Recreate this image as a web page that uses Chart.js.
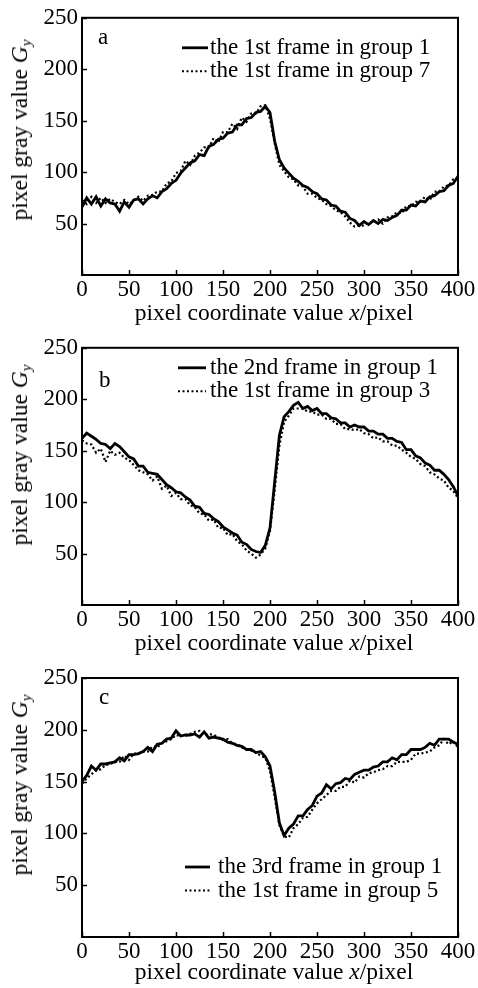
<!DOCTYPE html>
<html>
<head>
<meta charset="utf-8">
<script src="https://cdn.jsdelivr.net/npm/chart.js@4.4.1/dist/chart.umd.min.js"></script>
<style>
  body { margin: 0; background: #fff; }
  .panel { position: relative; width: 478px; }
  canvas { display: block; }
  .ytitle, .xtitle {
    position: absolute;
    font-family: "Liberation Serif", "Times New Roman", serif;
    font-size: 23.5px;
    color: #000;
    white-space: nowrap;
    line-height: 1;
  }
  .ytitle { transform: translate(-50%, -50%) rotate(-90deg); }
  .xtitle { transform: translate(-50%, -50%); }
  sub { font-size: 15px; vertical-align: -4px; }
</style>
</head>
<body>
<div class="panel" style="height:330px">
  <canvas id="chartA" width="478" height="330"></canvas>
  <div class="ytitle" style="left:21px;top:130px">pixel gray value <i>G</i><sub><i>y</i></sub></div>
  <div class="xtitle" style="left:274px;top:313px">pixel coordinate value <i>x</i>/pixel</div>
</div>
<div class="panel" style="height:325px">
  <canvas id="chartB" width="478" height="325"></canvas>
  <div class="ytitle" style="left:21px;top:125px">pixel gray value <i>G</i><sub><i>y</i></sub></div>
  <div class="xtitle" style="left:274px;top:313px">pixel coordinate value <i>x</i>/pixel</div>
</div>
<div class="panel" style="height:333px">
  <canvas id="chartC" width="478" height="333"></canvas>
  <div class="ytitle" style="left:21px;top:130px">pixel gray value <i>G</i><sub><i>y</i></sub></div>
  <div class="xtitle" style="left:274px;top:317px">pixel coordinate value <i>x</i>/pixel</div>
</div>
<script>
// pixel positions along the row (x axis)
const xPos = [0,5,10,15,20,25,30,35,40,45,50,55,60,65,70,75,80,85,90,95,
  100,105,110,115,120,125,130,135,140,145,150,155,160,165,170,175,180,185,190,195,
  200,205,210,215,220,225,230,235,240,245,250,255,260,265,270,275,280,285,290,295,
  300,305,310,315,320,325,330,335,340,345,350,355,360,365,370,375,380,385,390,395,400];

const xTicks = [0, 50, 100, 150, 200, 250, 300, 350, 400];
const yTicks = [50, 100, 150, 200, 250];

// panel a
const aGroup1 = [66,75,69,76,67,74,70,69,62,71,66,73,74,69,74,77,75,81,84,89,
  92,99,104,109,111,117,116,125,127,132,133,138,139,146,146,152,153,158,159,164,
  158,130,112,104,99,94,91,87,85,81,79,74,73,68,67,62,61,55,53,48,
  52,49,53,50,54,53,56,58,63,63,68,67,72,71,76,77,81,82,87,89,96];
const aGroup7 = [73,69,76,70,75,70,74,71,69,73,69,72,76,72,77,78,81,81,89,91,
  99,101,111,107,116,119,124,124,133,129,139,139,147,142,153,149,157,157,164,165,
  152,128,107,101,95,93,87,86,79,79,75,73,69,67,63,61,57,51,47,48,
  48,51,51,54,50,56,57,61,60,67,67,71,71,76,73,81,81,86,87,93,94];

// panel b
const bGroup1 = [162,167,164,161,157,156,152,157,154,149,144,142,135,135,129,128,127,122,117,114,
  110,109,105,102,96,95,89,88,84,81,76,73,70,68,61,59,54,52,51,58,
  75,120,165,183,188,194,197,191,193,189,191,186,186,182,181,177,177,173,175,173,
  173,169,169,166,166,162,162,159,158,151,151,145,143,138,136,131,131,127,122,115,106];
const bGroup3 = [160,157,156,148,152,139,150,146,148,143,141,136,131,129,127,121,125,113,116,106,
  109,103,103,97,95,89,88,82,83,75,75,68,69,62,59,53,50,46,49,55,
  72,112,155,178,184,191,191,191,188,188,185,185,181,181,176,176,171,171,170,171,
  167,166,162,163,159,159,155,155,151,148,144,142,137,135,129,127,123,121,114,111,104];

// panel c
const cGroup1 = [150,156,165,161,167,167,168,169,173,170,176,176,177,179,183,179,186,187,191,192,
  199,194,195,195,196,193,198,192,193,192,191,188,187,185,184,181,181,178,179,174,
  165,140,110,98,105,109,117,117,123,127,136,139,147,143,148,149,153,152,157,159,
  161,161,164,165,169,169,173,171,176,176,181,181,181,183,187,185,191,191,191,188,186];
const cGroup5 = [148,153,157,161,162,166,167,169,169,175,171,177,177,179,179,184,183,187,189,191,
  195,194,194,196,198,199,195,196,195,193,190,191,187,186,183,181,180,178,175,173,
  160,135,108,97,96,105,109,115,116,123,129,133,137,141,141,145,145,151,149,155,
  154,158,159,161,162,165,165,169,169,169,171,177,177,178,179,183,185,191,186,189,183];

const FONT = '"Liberation Serif", "Times New Roman", serif';

// letter, legend, inner ticks and frame
const panelDeco = {
  id: 'panelDeco',
  afterDraw(chart, args, opts) {
    const { ctx, chartArea: ca } = chart;
    const xs = chart.scales.x, ys = chart.scales.y;
    ctx.save();
    ctx.strokeStyle = '#000';
    ctx.lineWidth = 2;
    ctx.strokeRect(ca.left, ca.top, ca.right - ca.left, ca.bottom - ca.top);
    ctx.lineWidth = 1.5;
    ctx.beginPath();
    yTicks.forEach(v => {
      const py = Math.round(ys.getPixelForValue(v)) + 0.5;
      ctx.moveTo(ca.left, py); ctx.lineTo(ca.left + 5, py);
    });
    xTicks.forEach(v => {
      const px = Math.round(xs.getPixelForValue(v)) + 0.5;
      ctx.moveTo(px, ca.bottom); ctx.lineTo(px, ca.bottom - 5);
    });
    ctx.stroke();

    ctx.fillStyle = '#000';
    ctx.font = '23px ' + FONT;
    ctx.textBaseline = 'middle';
    ctx.textAlign = 'left';
    ctx.fillText(opts.letter, ca.left + opts.letterDx, ca.top + opts.letterDy);

    chart.data.datasets.forEach((ds, i) => {
      const y = ca.top + opts.legendTop + i * 23.5;
      ctx.beginPath();
      ctx.lineWidth = i === 0 ? 2.8 : 2;
      ctx.setLineDash(ds.borderDash || []);
      ctx.moveTo(opts.lineX0, y); ctx.lineTo(opts.lineX1, y);
      ctx.stroke();
      ctx.setLineDash([]);
      ctx.fillText(ds.label, opts.textX, y);
    });
    ctx.restore();
  }
};

function makePanel(id, solid, dotted, names, padTop, xHeight, deco) {
  new Chart(document.getElementById(id), {
    type: 'line',
    data: {
      datasets: [
        { label: names[0], data: xPos.map((x, i) => ({ x, y: solid[i] })),
          borderColor: '#000', borderWidth: 2.8, pointRadius: 0, tension: 0 },
        { label: names[1], data: xPos.map((x, i) => ({ x, y: dotted[i] })),
          borderColor: '#000', borderWidth: 2.2, borderDash: [2, 2.5], pointRadius: 0, tension: 0 }
      ]
    },
    options: {
      responsive: false,
      animation: false,
      devicePixelRatio: 1,
      layout: { padding: { top: padTop, right: 20, left: 0, bottom: 0 } },
      plugins: { legend: { display: false }, tooltip: { enabled: false }, panelDeco: deco },
      scales: {
        x: {
          type: 'linear', min: 0, max: 400,
          afterFit: s => { s.height = xHeight; },
          afterBuildTicks: s => { s.ticks = xTicks.map(v => ({ value: v })); },
          grid: { display: false, drawTicks: false },
          border: { display: false },
          ticks: { color: '#000', font: { family: FONT, size: 23 }, padding: 1, maxRotation: 0 }
        },
        y: {
          min: 0, max: 250,
          afterFit: s => { s.width = 82; },
          afterBuildTicks: s => { s.ticks = yTicks.map(v => ({ value: v })); },
          grid: { display: false, drawTicks: false },
          border: { display: false },
          ticks: { color: '#000', font: { family: FONT, size: 23 }, padding: 4 }
        }
      }
    },
    plugins: [panelDeco]
  });
}

makePanel('chartA', aGroup1, aGroup7,
  ['the 1st frame in group 1', 'the 1st frame in group 7'], 15, 55,
  { letter: 'a', letterDx: 16, letterDy: 20, legendTop: 30, lineX0: 182, lineX1: 208, textX: 210 });
makePanel('chartB', bGroup1, bGroup3,
  ['the 2nd frame in group 1', 'the 1st frame in group 3'], 15, 50,
  { letter: 'b', letterDx: 17, letterDy: 33, legendTop: 20, lineX0: 178, lineX1: 206, textX: 210 });
makePanel('chartC', cGroup1, cGroup5,
  ['the 3rd frame in group 1', 'the 1st frame in group 5'], 23, 51,
  { letter: 'c', letterDx: 17, letterDy: 20, legendTop: 189, lineX0: 185, lineX1: 210, textX: 218 });
</script>
</body>
</html>
